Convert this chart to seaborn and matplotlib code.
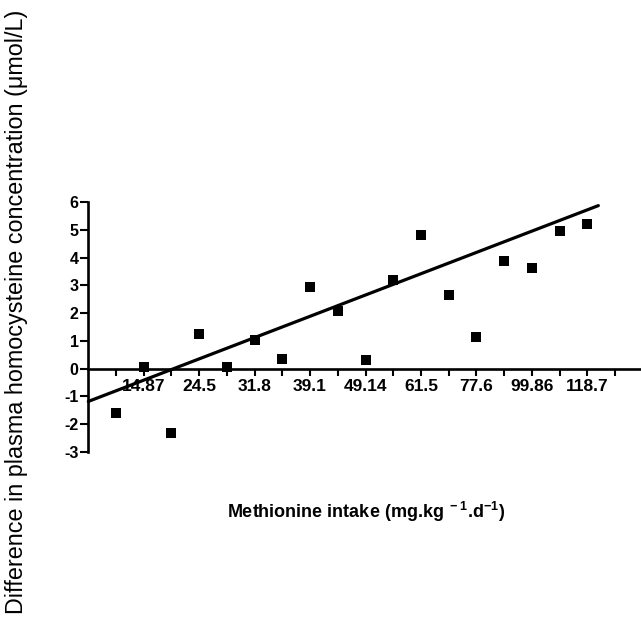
import matplotlib
matplotlib.use("Agg")
import matplotlib.pyplot as plt
import seaborn as sns
import numpy as np
import pandas as pd

# ---- data ----
positions = list(range(1, 19))
diff_hcy = [-1.6, 0.05, -2.3, 1.26, 0.05, 1.05, 0.35, 2.94, 2.09,
            0.32, 3.2, 4.8, 2.64, 1.14, 3.89, 3.63, 4.95, 5.21]
tick_positions = list(range(1, 20))
tick_labels = ["", "14.87", "", "24.5", "", "31.8", "", "39.1", "", "49.14",
               "", "61.5", "", "77.6", "", "99.86", "", "118.7", ""]
trend_x = [0.0, 18.4]
trend_y = [-1.18, 5.87]
y_ticks = [-3, -2, -1, 0, 1, 2, 3, 4, 5, 6]

sns.set_theme(style="white")
plt.rcParams["font.family"] = ["Liberation Sans", "DejaVu Sans"]
plt.rcParams["mathtext.fontset"] = "custom"
plt.rcParams["mathtext.rm"] = "Liberation Sans"
plt.rcParams["mathtext.bf"] = "Liberation Sans:bold"
plt.rcParams["text.color"] = "black"
plt.rcParams["xtick.color"] = "black"
plt.rcParams["ytick.color"] = "black"
plt.rcParams["axes.unicode_minus"] = False

W, H = 641, 623
fig = plt.figure(figsize=(W / 100, H / 100), dpi=100)
left = 88.3 / W
bottom = (H - 452) / H
top = (H - 202) / H
ax = fig.add_axes([left, bottom, 1 - left, top - bottom])

df = pd.DataFrame({"pos": positions, "diff": diff_hcy})
sns.scatterplot(data=df, x="pos", y="diff", marker="s", s=48, color="black",
                linewidth=0, ax=ax, clip_on=False, zorder=3)
sns.lineplot(x=trend_x, y=trend_y, color="black", linewidth=2.3, ax=ax,
             clip_on=False, zorder=4)

ax.set_xlim(0, (W - 88.3) / 27.72)
ax.set_ylim(-3, 6)

for s in ["top", "right"]:
    ax.spines[s].set_visible(False)
ax.spines["bottom"].set_position(("data", 0))
for s in ["left", "bottom"]:
    ax.spines[s].set_color("black")
    ax.spines[s].set_linewidth(1.9)

ax.set_xticks(tick_positions)
ax.set_xticklabels(tick_labels)
ax.set_yticks(y_ticks)
ax.set_yticklabels([str(v) for v in y_ticks])
ax.tick_params(axis="x", direction="out", length=5, width=1.5, pad=2.5,
               color="black", bottom=True, labelsize=12.5)
ax.tick_params(axis="y", direction="out", length=6, width=1.5, pad=1,
               color="black", left=True, labelsize=11.5)
for lab in ax.get_xticklabels() + ax.get_yticklabels():
    lab.set_fontweight("bold")
    lab.set_color("black")
ax.set_xlabel("")
ax.set_ylabel("")
ax.grid(False)

fig.text(366 / W, 1 - 512 / H,
         r"Methionine intake (mg.kg$^{\mathbf{\ -1}}$.d$^{\mathbf{-1}}$)",
         ha="center", va="center", fontsize=13, fontweight="bold", color="black")
fig.text(17 / W, 1 - 312 / H,
         "Difference in plasma homocysteine concentration (\u03bcmol/L)",
         ha="center", va="center", rotation=90, fontsize=16.8, color="black")

fig.savefig("out.png", dpi=100, facecolor="white")
